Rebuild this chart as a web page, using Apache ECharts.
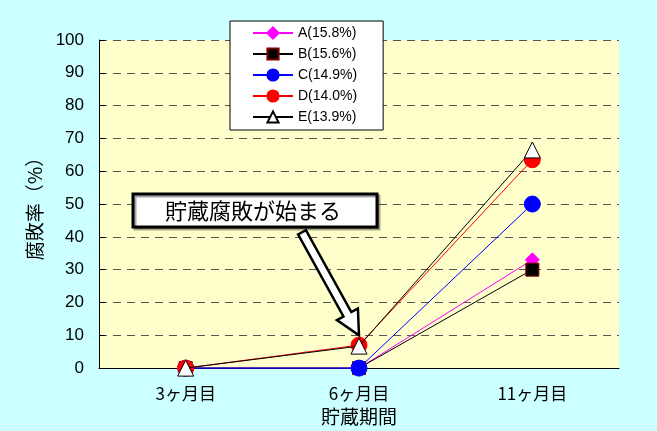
<!DOCTYPE html>
<html><head><meta charset="utf-8">
<script src="https://cdn.jsdelivr.net/npm/echarts@6/dist/echarts.min.js"></script>
<style>html,body{margin:0;padding:0;background:#ccffff}#c{width:657px;height:431px}</style>
</head><body><div id="c"></div>
<script>
const categories = ['3ヶ月目', '6ヶ月目', '11ヶ月目'];
const seriesNames = ['A(15.8%)', 'B(15.6%)', 'C(14.9%)', 'D(14.0%)', 'E(13.9%)'];
const valuesA = [0, 0, 33];
const valuesB = [0, 0, 30];
const valuesC = [0, 0, 50];
const valuesD = [0, 7, 63.5];
const valuesE = [0, 6.7, 66.5];
const yTicks = [0, 10, 20, 30, 40, 50, 60, 70, 80, 90, 100];
const annotationText = '貯蔵腐敗が始まる';

const jp = '"Noto Sans CJK JP", sans-serif';
const num = '"Liberation Sans", Arial, sans-serif';

const styles = [
  {symbol: 'diamond', size: 14, color: '#ff00ff', border: '#ff00ff', line: '#ff00ff'},
  {symbol: 'rect', size: 13, color: '#000000', border: '#800000', line: '#000000'},
  {symbol: 'circle', size: 16, color: '#0000ff', border: '#0000ff', line: '#0000ff'},
  {symbol: 'circle', size: 16, color: '#ff0000', border: '#ff0000', line: '#ff0000'},
  {symbol: 'triangle', size: 16, color: '#ffffff', border: '#000000', line: '#000000'}
];
const allValues = [valuesA, valuesB, valuesC, valuesD, valuesE];

const chart = echarts.init(document.getElementById('c'));
const option = {
  backgroundColor: '#ccffff',
  animation: false,
  grid: {left: 99, right: 38, top: 40, bottom: 60, show: true, backgroundColor: '#ffffcc', borderWidth: 0},
  legend: {
    left: 230, top: 21, orient: 'vertical',
    backgroundColor: '#ffffff', borderColor: '#000000', borderWidth: 1,
    padding: [5, 26, 6, 22], itemGap: 7, itemWidth: 40, itemHeight: 14,
    textStyle: {fontFamily: num, fontSize: 14, color: '#000'},
    data: seriesNames
  },
  xAxis: {
    type: 'category', data: categories, boundaryGap: true,
    name: '貯蔵期間', nameLocation: 'middle', nameGap: 37,
    nameTextStyle: {fontFamily: jp, fontSize: 19, color: '#000'},
    axisLine: {lineStyle: {color: '#000', width: 1}},
    axisTick: {inside: true, length: 6, lineStyle: {color: '#000'}},
    axisLabel: {fontFamily: jp, fontSize: 17, color: '#000', margin: 17}
  },
  yAxis: {
    type: 'value', min: yTicks[0], max: yTicks[yTicks.length - 1], interval: 10,
    name: '腐敗率（%）', nameLocation: 'middle', nameGap: 55, nameRotate: 90,
    nameTextStyle: {fontFamily: jp, fontSize: 19, color: '#000'},
    axisLine: {show: true, lineStyle: {color: '#000', width: 1}},
    axisTick: {show: true, inside: true, length: 6, lineStyle: {color: '#000'}},
    axisLabel: {fontFamily: num, fontSize: 17, color: '#000', margin: 15},
    splitLine: {show: true, lineStyle: {color: '#555', type: [8, 6], width: 1}}
  },
  series: seriesNames.map((n, i) => ({
    name: n, type: 'line', data: allValues[i], clip: false,
    symbol: styles[i].symbol, symbolSize: styles[i].size,
    lineStyle: {color: styles[i].line, width: 1},
    itemStyle: {color: styles[i].color, borderColor: styles[i].border, borderWidth: 1},
    z: 2 + i
  }))
};
chart.setOption(option);

// annotation arrow anchored to data point (6ヶ月目, ~10)
const tip = chart.convertToPixel({xAxisIndex: 0, yAxisIndex: 0}, [categories[1], 10]);
const tail = [tip[0] - 57, tip[1] - 103];
const dx = tip[0] - tail[0], dy = tip[1] - tail[1];
const L = Math.sqrt(dx * dx + dy * dy);
const ux = dx / L, uy = dy / L, nx = -uy, ny = ux;
const sw = 4.5, hw = 12, hl = 24;
const neck = [tip[0] - ux * hl, tip[1] - uy * hl];
const pts = [
  [tail[0] + nx * sw, tail[1] + ny * sw],
  [neck[0] + nx * sw, neck[1] + ny * sw],
  [neck[0] + nx * hw, neck[1] + ny * hw],
  [tip[0], tip[1]],
  [neck[0] - nx * hw, neck[1] - ny * hw],
  [neck[0] - nx * sw, neck[1] - ny * sw],
  [tail[0] - nx * sw, tail[1] - ny * sw]
];
chart.setOption({
  graphic: [
    {type: 'polygon', shape: {points: pts}, style: {fill: '#ffffff', stroke: '#000000', lineWidth: 2.5}, z: 20},
    {type: 'rect', shape: {x: 133, y: 194, width: 244, height: 33},
     style: {fill: '#ffffff', stroke: '#000000', lineWidth: 3, shadowColor: 'rgba(0,0,0,0.35)', shadowOffsetX: 2, shadowOffsetY: 2}, z: 20},
    {type: 'text', x: 253, y: 211, z: 21,
     style: {text: annotationText, fontFamily: jp, fontSize: 22, fill: '#000', align: 'center', verticalAlign: 'middle'}}
  ]
});
</script></body></html>
